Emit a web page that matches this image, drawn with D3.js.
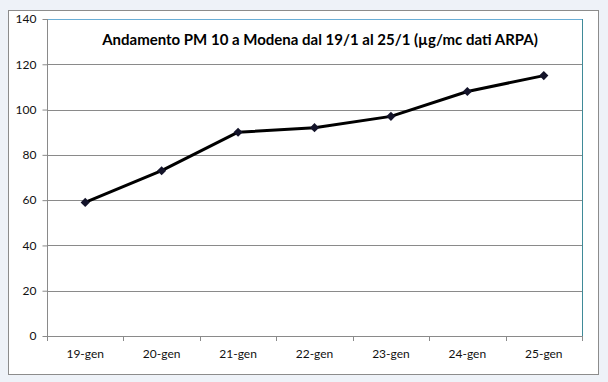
<!DOCTYPE html>
<html><head><meta charset="utf-8">
<script src="https://cdn.jsdelivr.net/npm/d3@7"></script>
<style>
html,body{margin:0;padding:0;background:#eef2f8;}
svg{display:block;}
</style></head>
<body>
<svg id="c" width="608" height="382"></svg>
<script>
const categories = ["19-gen","20-gen","21-gen","22-gen","23-gen","24-gen","25-gen"];
const values = [59, 73, 90, 92, 97, 108, 115];
const yTicks = [0,20,40,60,80,100,120,140];
const title = "Andamento PM 10 a Modena dal 19/1 al 25/1 (µg/mc dati ARPA)";

const svg = d3.select("#c");
// chart frame
svg.append("rect").attr("x",8.5).attr("y",10.5).attr("width",590).attr("height",364)
  .attr("fill","#ffffff").attr("stroke","#8c8c8c").attr("stroke-width",1);

const L=47, R=582, T=19, B=336;
const x = d3.scaleBand().domain(categories).range([L,R]);
const y = d3.scaleLinear().domain([0,140]).range([B,T]);

// gridlines
svg.append("g").selectAll("line").data(yTicks.filter(d=>d>0)).join("line")
  .attr("x1",L).attr("x2",R).attr("y1",d=>Math.round(y(d))+0.5).attr("y2",d=>Math.round(y(d))+0.5)
  .attr("stroke",d=>d===140?"#6aaed6":"#8a8a8a").attr("stroke-width",1);
// right border of plot
svg.append("line").attr("x1",R+0.5).attr("x2",R+0.5).attr("y1",T).attr("y2",B)
  .attr("stroke","#3f8a98").attr("stroke-width",1);

// y axis
const ya = svg.append("g").attr("transform",`translate(${L+0.5},0)`)
  .call(d3.axisLeft(y).tickValues(yTicks).tickSize(5).tickPadding(6));
ya.select(".domain").attr("stroke","#8a8a8a").attr("d",`M0,${T}V${B}`);
ya.selectAll(".tick line").attr("stroke","#8a8a8a");
ya.selectAll(".tick text").attr("font-family","Lato, 'Open Sans', sans-serif").attr("font-size",12).attr("fill","#111");

// x axis
const xa = svg.append("g").attr("transform",`translate(0,${B+0.5})`)
  .call(d3.axisBottom(x).tickSize(0).tickPadding(13));
xa.select(".domain").attr("stroke","#8a8a8a").attr("d",`M${L},0H${R}`);
xa.selectAll(".tick text").attr("font-family","Lato, 'Open Sans', sans-serif").attr("font-size",12).attr("fill","#111");
// boundary ticks
const bounds = categories.map(c=>x(c)).concat([R]);
svg.append("g").selectAll("line").data(bounds).join("line")
  .attr("x1",d=>Math.round(d)+0.5).attr("x2",d=>Math.round(d)+0.5)
  .attr("y1",B).attr("y2",B+5).attr("stroke","#8a8a8a");

// line
const cx = d=>x(d)+x.bandwidth()/2;
svg.append("path").datum(values)
  .attr("d",d3.line().x((d,i)=>cx(categories[i])).y(d=>y(d)))
  .attr("fill","none").attr("stroke","#000").attr("stroke-width",3).attr("stroke-linejoin","round");
// markers
svg.append("g").selectAll("path").data(values).join("path")
  .attr("transform",(d,i)=>`translate(${cx(categories[i])},${y(d)}) rotate(45)`)
  .attr("d",d3.symbol(d3.symbolSquare, 42)())
  .attr("fill","#14142a");

// title
svg.append("text").attr("x",320).attr("y",45).attr("text-anchor","middle")
  .attr("font-family","Lato, 'Open Sans', sans-serif").attr("font-weight","bold").attr("font-size",15)
  .attr("fill","#000").text(title);
</script>
</body></html>
